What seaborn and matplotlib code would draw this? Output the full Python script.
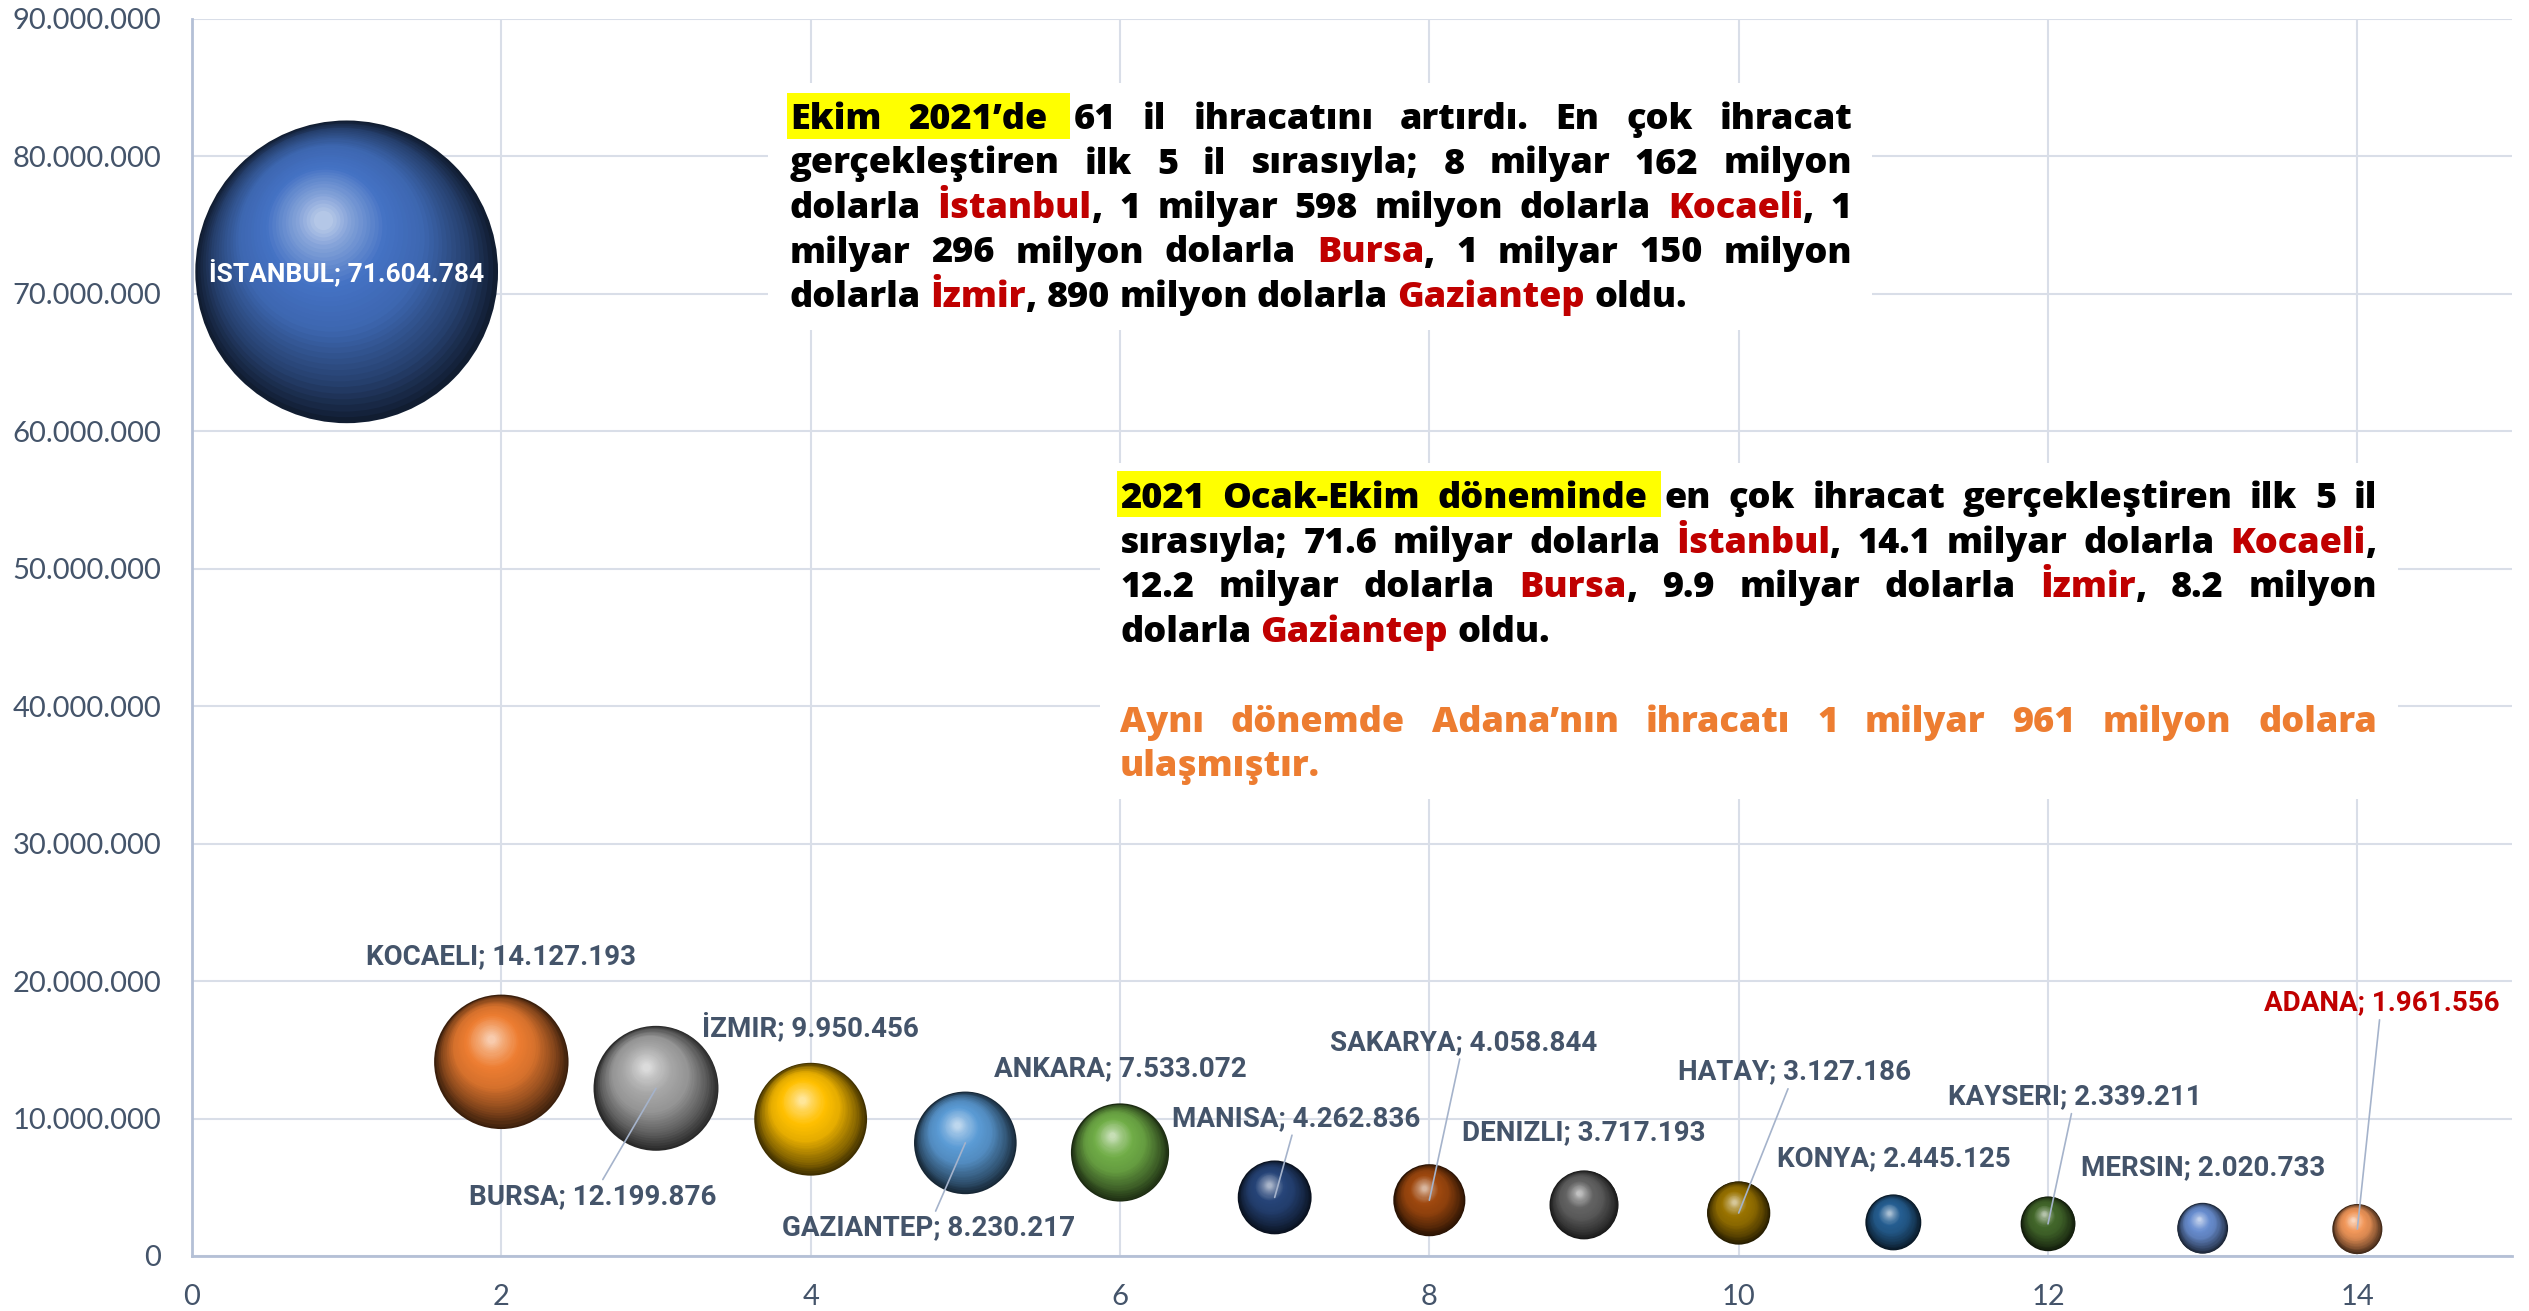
import re
import numpy as np
import pandas as pd
import matplotlib
matplotlib.use("Agg")
import matplotlib.pyplot as plt
import seaborn as sns
from matplotlib.patches import Rectangle
from matplotlib.transforms import ScaledTranslation
from matplotlib.colors import to_rgb
from matplotlib.ticker import FuncFormatter

# veri: 2021 Ocak-Ekim il bazinda ihracat (bin $)
provinces = ["İSTANBUL", "KOCAELI", "BURSA", "İZMIR", "GAZIANTEP", "ANKARA", "MANISA",
             "SAKARYA", "DENIZLI", "HATAY", "KONYA", "KAYSERI", "MERSIN", "ADANA"]
rank = list(range(1, 15))
exports = [71604784, 14127193, 12199876, 9950456, 8230217, 7533072, 4262836,
           4058844, 3717193, 3127186, 2445125, 2339211, 2020733, 1961556]
colors = ["#4472C4", "#ED7D31", "#A5A5A5", "#FFC000", "#5B9BD5", "#70AD47", "#264478",
          "#9E480E", "#636363", "#997300", "#255E91", "#43682B", "#698ED0", "#F1975A"]

# etiket yerleri (piksel, balona gore) ve cizgi olup olmadigi
label_offsets = [(0, 4), (0, 105), (-63, -108), (0, 92), (-37, -85), (0, 84), (22, 79),
                 (34, 158), (0, 72), (56, 141), (0, 64), (27, 127), (0, 61), (24, 226)]
leaders = [False, False, True, False, True, False, True,
           True, False, True, False, True, False, True]

W, H = 2529, 1311
RED = "#C00000"
ORANGE = "#ED7D31"
SLATE = "#44546A"
TICK_FONT = ["Lato", "DejaVu Sans"]
LABEL_FONT = ["Roboto", "DejaVu Sans"]
BOX_FONT = ["Open Sans", "DejaVu Sans"]

sns.set_theme(style="white")
plt.rcParams["font.family"] = TICK_FONT

fig = plt.figure(figsize=(W / 100, H / 100), dpi=100)
ax = fig.add_axes([192 / W, 1 - 1256 / H, (2512 - 192) / W, (1256 - 19) / H])


def shade(c, t):
    # koyu kenardan parlak noktaya renk gecisi
    c = np.array(to_rgb(c))
    stops = [(0.0, c * 0.25), (0.15, c * 0.55), (0.4, c * 0.9), (0.62, c),
             (0.85, c + (1 - c) * 0.35), (1.0, c + (1 - c) * 0.65)]
    for (t0, c0), (t1, c1) in zip(stops[:-1], stops[1:]):
        if t <= t1:
            f = (t - t0) / (t1 - t0)
            return tuple(np.clip(c0 + (c1 - c0) * f, 0, 1))
    return tuple(np.clip(stops[-1][1], 0, 1))


df = pd.DataFrame({"il": provinces, "sira": rank, "ihracat": exports})
k = 47500 / max(exports)
sns.scatterplot(data=df, x="sira", y="ihracat", hue="il",
                palette=[shade(c, 0) for c in colors],
                size="ihracat", sizes=(k * min(exports), k * max(exports)),
                size_norm=(min(exports), max(exports)),
                legend=False, linewidth=0, ax=ax, zorder=2)

# kure efekti
N = 40
hx, hy = -0.42, 0.91
for x, v, c in zip(rank, exports, colors):
    r = np.sqrt(k * v) / 2
    for j in range(1, N):
        t = j / N
        rad = r * (1 - t * 0.96)
        m = 0.38 * r * (1 - (1 - t) ** 2)
        tr = ax.transData + ScaledTranslation(hx * m / 72, hy * m / 72, fig.dpi_scale_trans)
        ax.scatter([x], [v], s=(2 * rad) ** 2, color=shade(c, t), linewidths=0,
                   transform=tr, zorder=2 + j * 0.01)

ax.set_xlim(0, 15)
ax.set_ylim(0, 90000000)
ax.set_xticks(range(0, 15, 2))
ax.set_yticks(range(0, 90000001, 10000000))
ax.yaxis.set_major_formatter(FuncFormatter(lambda v, p: f"{v:,.0f}".replace(",", ".")))
ax.set_xlabel("")
ax.set_ylabel("")
ax.grid(True, color="#D9DEE8", lw=1.5, zorder=0)
ax.set_axisbelow(True)
for s in ["top", "right"]:
    ax.spines[s].set_visible(False)
for s in ["left", "bottom"]:
    ax.spines[s].set_color("#B4C0D6")
    ax.spines[s].set_linewidth(2)
ax.tick_params(axis="both", length=0, labelsize=21, labelcolor=SLATE)
ax.tick_params(axis="y", pad=22)
ax.tick_params(axis="x", pad=20)

# veri etiketleri
for i, (name, x, v) in enumerate(zip(provinces, rank, exports)):
    txt = f"{name}; {v:,}".replace(",", ".")
    if i == 0:
        ax.text(x, v, txt, color="white", ha="center", va="center", family=LABEL_FONT,
                fontsize=19, fontweight="bold", zorder=10)
        continue
    dx, dy = label_offsets[i]
    col = RED if name == "ADANA" else SLATE
    arrow = dict(arrowstyle="-", color="#A5B3CB", lw=1.2, shrinkA=0, shrinkB=0) if leaders[i] else None
    ax.annotate(txt, xy=(x, v), xytext=(dx * 0.72, dy * 0.72), textcoords="offset points",
                ha="center", va="center", color=col, fontsize=20, fontweight="bold",
                family=LABEL_FONT, arrowprops=arrow, zorder=10)

# metin kutulari
renderer = fig.canvas.get_renderer()


def parse(word, base):
    out = []
    for p in re.split(r"(\{[^}]*\})", word):
        if not p:
            continue
        if p.startswith("{"):
            out.append((p[1:-1], RED))
        else:
            out.append((p, base))
    return out


def measure(s, size):
    t = fig.text(0, 0, s, fontsize=size, fontweight="heavy", family=BOX_FONT)
    w = t.get_window_extent(renderer).width
    t.remove()
    return w


def paragraph(lines, left, right, baselines, color, size, hl=None):
    space = measure("a a", size) - measure("aa", size)
    for n, (line, justify) in enumerate(lines):
        words = [parse(w, color) for w in line.split(" ")]
        arts, widths = [], []
        for w in words:
            parts, wsum = [], 0
            for txt, col in w:
                t = fig.text(0, 0, txt, color=col, fontsize=size, fontweight="heavy",
                             family=BOX_FONT, va="baseline", ha="left", zorder=4)
                pw = t.get_window_extent(renderer).width
                parts.append((t, pw))
                wsum += pw
            arts.append(parts)
            widths.append(wsum)
        gap = (right - left - sum(widths)) / (len(words) - 1) if justify else space
        x = left
        for i, parts in enumerate(arts):
            if hl is not None and n == 0 and i == hl[0]:
                fig.add_artist(Rectangle(((left - 3) / W, 1 - hl[2] / H),
                                         (x - 4 - left + 3) / W, (hl[2] - hl[1]) / H,
                                         transform=fig.transFigure, facecolor="#FFFF00",
                                         edgecolor="none", zorder=2))
            for t, pw in parts:
                t.set_position((x / W, 1 - baselines[n] / H))
                x += pw
            x += gap


def white_box(x0, y0, x1, y1):
    fig.add_artist(Rectangle((x0 / W, 1 - y1 / H), (x1 - x0) / W, (y1 - y0) / H,
                             transform=fig.transFigure, facecolor="white",
                             edgecolor="none", zorder=1))


box1 = [
    ("Ekim 2021’de 61 il ihracatını artırdı. En çok ihracat", True),
    ("gerçekleştiren ilk 5 il sırasıyla; 8 milyar 162 milyon", True),
    ("dolarla {İstanbul}, 1 milyar 598 milyon dolarla {Kocaeli}, 1", True),
    ("milyar 296 milyon dolarla {Bursa}, 1 milyar 150 milyon", True),
    ("dolarla {İzmir}, 890 milyon dolarla {Gaziantep} oldu.", False),
]
box2 = [
    ("2021 Ocak-Ekim döneminde en çok ihracat gerçekleştiren ilk 5 il", True),
    ("sırasıyla; 71.6 milyar dolarla {İstanbul}, 14.1 milyar dolarla {Kocaeli},", True),
    ("12.2 milyar dolarla {Bursa}, 9.9 milyar dolarla {İzmir}, 8.2 milyon", True),
    ("dolarla {Gaziantep} oldu.", False),
]
box3 = [
    ("Aynı dönemde Adana’nın ihracatı 1 milyar 961 milyon dolara", True),
    ("ulaşmıştır.", False),
]

# tum satirlarin sigacagi yazi boyu
fit = []
for lines, width in [(box1, 1062), (box2, 1257), (box3, 1257)]:
    for line, just in lines:
        if just:
            fit.append(width / measure(line.replace("{", "").replace("}", ""), 20))
box_size = min(26, 20 * min(fit) * 0.985)

white_box(768, 83, 1872, 330)
white_box(1100, 463, 2398, 799)
paragraph(box1, 790, 1852, [129 + 44.5 * i for i in range(5)], "black", box_size, hl=(2, 93, 139))
paragraph(box2, 1120, 2377, [508 + 44.7 * i for i in range(4)], "black", box_size, hl=(3, 471, 517))
paragraph(box3, 1120, 2377, [732, 776], ORANGE, box_size)

fig.savefig("out.png", dpi=100)
